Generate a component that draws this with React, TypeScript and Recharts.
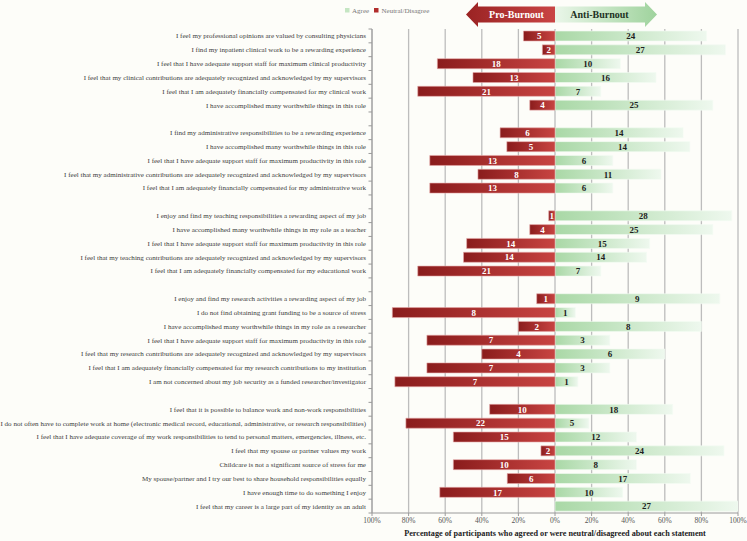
import React from "react";
import { BarChart, Bar, XAxis, YAxis, CartesianGrid, LabelList } from "recharts";

const statements: string[] = [
  "I feel my professional opinions are valued by consulting physicians",
  "I find my inpatient clinical work to be a rewarding experience",
  "I feel that I have adequate support staff for maximum clinical productivity",
  "I feel that my clinical contributions are adequately recognized and acknowledged by my supervisors",
  "I feel that I am adequately financially compensated for my clinical work",
  "I have accomplished many worthwhile things in this role",
  "",
  "I find my administrative responsibilities to be a rewarding experience",
  "I have accomplished many worthwhile things in this role",
  "I feel that I have adequate support staff for maximum productivity in this role",
  "I feel that my administrative contributions are adequately recognized and acknowledged by my supervisors",
  "I feel that I am adequately financially compensated for my administrative work",
  "",
  "I enjoy and find my teaching responsibilities a rewarding aspect of my job",
  "I have accomplished many worthwhile things in my role as a teacher",
  "I feel that I have adequate support staff for maximum productivity in this role",
  "I feel that my teaching contributions are adequately recognized and acknowledged by my supervisors",
  "I feel that I am adequately financially compensated for my educational work",
  "",
  "I enjoy and find my research activities a rewarding aspect of my job",
  "I do not find obtaining grant funding to be a source of stress",
  "I have accomplished many worthwhile things in my role as a researcher",
  "I feel that I have adequate support staff for maximum productivity in this role",
  "I feel that my research contributions are adequately recognized and acknowledged by my supervisors",
  "I feel that I am adequately financially compensated for my research contributions to my institution",
  "I am not concerned about my job security as a funded researcher/investigator",
  "",
  "I feel that it is possible to balance work and non-work responsibilities",
  "I do not often have to complete work at home (electronic medical record, educational, administrative, or research responsibilities)",
  "I feel that I have adequate coverage of my work responsibilities to tend to personal matters, emergencies, illness, etc.",
  "I feel that my spouse or partner values my work",
  "Childcare is not a significant source of stress for me",
  "My spouse/partner and I try our best to share household responsibilities equally",
  "I have enough time to do something I enjoy",
  "I feel that my career is a large part of my identity as an adult",
];

const agreeCounts: (number | null)[] = [
  24, 27, 10, 16, 7, 25, null,
  14, 14, 6, 11, 6, null,
  28, 25, 15, 14, 7, null,
  9, 1, 8, 3, 6, 3, 1, null,
  18, 5, 12, 24, 8, 17, 10, 27,
];

const disagreeCounts: (number | null)[] = [
  5, 2, 18, 13, 21, 4, null,
  6, 5, 13, 8, 13, null,
  1, 4, 14, 14, 21, null,
  1, 8, 2, 7, 4, 7, 7, null,
  10, 22, 15, 2, 10, 6, 17, 0,
];

const xTicks = [-100, -80, -60, -40, -20, 0, 20, 40, 60, 80, 100];
const seriesNames = ["Agree", "Neutral/Disagree"];
const arrowLabels = ["Pro-Burnout", "Anti-Burnout"];
const axisTitle =
  "Percentage of participants who agreed or were neutral/disagreed about each statement";

const data = statements.map((label, i) => {
  const a = agreeCounts[i];
  const d = disagreeCounts[i];
  if (a == null || d == null) {
    return { id: "r" + i, label, agree: null, disagree: null, agreeN: null, disagreeN: null };
  }
  const total = a + d;
  return {
    id: "r" + i,
    label,
    agree: (a / total) * 100,
    disagree: -(d / total) * 100,
    agreeN: a,
    disagreeN: d,
  };
});

const SERIF = "'Liberation Serif', 'DejaVu Serif', serif";

const CatTick = (props: any) => {
  const { x, y, payload, index, height } = props;
  const i = Number(String(payload.value).slice(1));
  const label = statements[i] || "";
  const band = (height && height > 0 ? height : 484) / statements.length;
  const axisX = x + 6;
  return (
    <g>
      <line x1={axisX - 3.5} x2={axisX} y1={y - band / 2} y2={y - band / 2} stroke="#9a9a9a" strokeWidth={1} />
      {index === statements.length - 1 && (
        <line x1={axisX - 3.5} x2={axisX} y1={y + band / 2} y2={y + band / 2} stroke="#9a9a9a" strokeWidth={1} />
      )}
      {label && (
        <text x={x} y={y} dy="0.35em" textAnchor="end" fontSize={7.05} fontFamily={SERIF} fill="#404040">
          {label}
        </text>
      )}
    </g>
  );
};

const makeLabel = (color: string) => (props: any) => {
  const { x, y, width, height, value } = props;
  if (value == null || value === 0) return null;
  return (
    <text
      x={x + width / 2}
      y={y + height / 2}
      dy="0.36em"
      textAnchor="middle"
      fill={color}
      fontSize={9}
      fontWeight="bold"
      fontFamily={SERIF}
    >
      {value}
    </text>
  );
};

export default function App() {
  return (
    <div style={{ position: "absolute", left: 0, top: 0, width: 747, height: 541, background: "#fdfdf9" }}>
      <BarChart
        width={747}
        height={541}
        data={data}
        layout="vertical"
        stackOffset="sign"
        margin={{ top: 29, right: 9, bottom: 0, left: 0 }}
        barSize={10}
      >
        <defs>
          <linearGradient id="gRed" x1="0" y1="0" x2="1" y2="0">
            <stop offset="0%" stopColor="#8a1c1c" />
            <stop offset="100%" stopColor="#c84442" />
          </linearGradient>
          <linearGradient id="gGreen" x1="0" y1="0" x2="1" y2="0">
            <stop offset="0%" stopColor="#a9d8a6" />
            <stop offset="100%" stopColor="#eef8ee" />
          </linearGradient>
        </defs>
        <CartesianGrid horizontal={false} stroke="#bdbdbd" strokeWidth={1.3} />
        <XAxis
          type="number"
          domain={[-100, 100]}
          ticks={xTicks}
          interval={0}
          allowDataOverflow
          tickFormatter={(v: number) => Math.abs(v) + "%"}
          height={28}
          stroke="#9a9a9a"
          tickSize={3}
          tickMargin={2}
          tick={{ fontSize: 7.5, fill: "#555", fontFamily: SERIF }}
          label={{
            value: axisTitle,
            position: "insideBottom",
            offset: 5,
            style: { fontSize: 8.2, fontWeight: "bold", fill: "#222", fontFamily: SERIF },
          }}
        />
        <YAxis
          type="category"
          dataKey="id"
          width={372}
          interval={0}
          tickLine={false}
          tickSize={4}
          tickMargin={2}
          stroke="#9a9a9a"
          tick={<CatTick />}
        />
        <Bar
          dataKey="agree"
          name={seriesNames[0]}
          stackId="s"
          fill="url(#gGreen)"
          stroke="#f4fbf4"
          strokeWidth={0.6}
          isAnimationActive={false}
        >
          <LabelList dataKey="agreeN" content={makeLabel("#1e1e1e")} />
        </Bar>
        <Bar
          dataKey="disagree"
          name={seriesNames[1]}
          stackId="s"
          fill="url(#gRed)"
          stroke="#e6aaaa"
          strokeWidth={0.6}
          isAnimationActive={false}
        >
          <LabelList dataKey="disagreeN" content={makeLabel("#ffffff")} />
        </Bar>
      </BarChart>
      <svg
        width={747}
        height={30}
        style={{ position: "absolute", left: 0, top: 0, pointerEvents: "none" }}
      >
        <defs>
          <linearGradient id="aRed" x1="0" y1="0" x2="1" y2="0">
            <stop offset="0%" stopColor="#9a2323" />
            <stop offset="100%" stopColor="#c94444" />
          </linearGradient>
          <linearGradient id="aGreen" x1="0" y1="0" x2="1" y2="0">
            <stop offset="0%" stopColor="#eaf6e9" />
            <stop offset="100%" stopColor="#9fd39d" />
          </linearGradient>
        </defs>
        <polygon points="466,14.5 478,2 478,6.5 555,6.5 555,22.5 478,22.5 478,27" fill="url(#aRed)" />
        <polygon points="555,6.5 645,6.5 645,2 657,14.5 645,27 645,22.5 555,22.5" fill="url(#aGreen)" />
        <text x={516.5} y={14.5} dy="0.35em" textAnchor="middle" fontSize={10} fontWeight="bold" fontFamily={SERIF} fill="#ffffff">
          {arrowLabels[0]}
        </text>
        <text x={599.5} y={14.5} dy="0.35em" textAnchor="middle" fontSize={10} fontWeight="bold" fontFamily={SERIF} fill="#22321f">
          {arrowLabels[1]}
        </text>
        <rect x={345} y={8} width={4.5} height={4.5} fill="#c5e6c3" />
        <text x={352} y={10.3} dy="0.35em" fontSize={7} fontFamily={SERIF} fill="#777">
          {seriesNames[0]}
        </text>
        <rect x={374} y={8} width={4.5} height={4.5} fill="#b12d2c" />
        <text x={381.5} y={10.3} dy="0.35em" fontSize={7} fontFamily={SERIF} fill="#777">
          {seriesNames[1]}
        </text>
      </svg>
    </div>
  );
}
